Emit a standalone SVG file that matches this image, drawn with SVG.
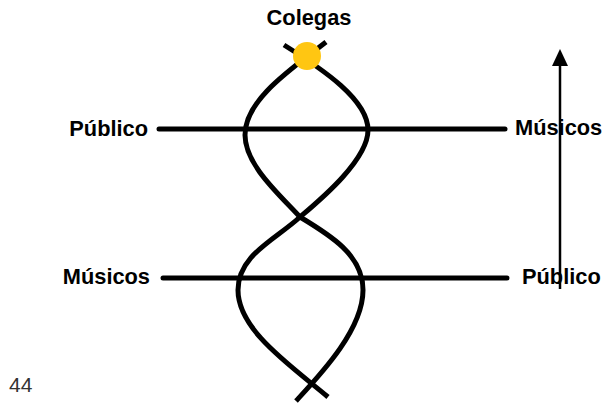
<svg xmlns="http://www.w3.org/2000/svg" width="603" height="404" viewBox="0 0 603 404">
<defs>
<style>
.lbl{font-family:"Liberation Sans",Arial,sans-serif;font-weight:bold;font-size:21.8px;fill:#000}
.bar{stroke:#000;stroke-width:5;stroke-linecap:round;fill:none}
.rope{stroke:#000;stroke-width:5;fill:none;stroke-linecap:butt}
</style>
</defs>
<rect width="603" height="404" fill="#fff"/>
<g id="connectors">
<line class="bar" x1="159" y1="129" x2="505" y2="129"/>
<line class="bar" x1="163" y1="278" x2="507" y2="278"/>
<path class="rope" d="M326,42 C290,70 245,100 245,135 C245,165 280,195 300,217 C330,235 363,255 363,290 C363,330 320,375 296,401"/>
<path class="rope" d="M284,45 C324,70 368,100 368,130 C368,160 320,200 300,217 C275,240 238,255 238,290 C238,330 290,365 328,397"/>
<line x1="560" y1="289" x2="560" y2="64" stroke="#000" stroke-width="2.5"/>
<path d="M552,66 L560,49 L568,66 Z" fill="#000"/>
</g>
<g id="colegas">
<circle cx="307" cy="56" r="14" fill="#FFC612"/>
<text class="lbl" x="309" y="25" text-anchor="middle">Colegas</text>
</g>
<g id="publico-top">
<text class="lbl" x="148" y="136" text-anchor="end">Público</text>
</g>
<g id="musicos-top">
<text class="lbl" x="515" y="135">Músicos</text>
</g>
<g id="musicos-bottom">
<text class="lbl" x="150" y="284" text-anchor="end">Músicos</text>
</g>
<g id="publico-bottom">
<text class="lbl" x="522" y="284">Público</text>
</g>
<text x="9" y="392" font-family="Liberation Sans, Arial, sans-serif" font-size="21" fill="#333">44</text>
</svg>
